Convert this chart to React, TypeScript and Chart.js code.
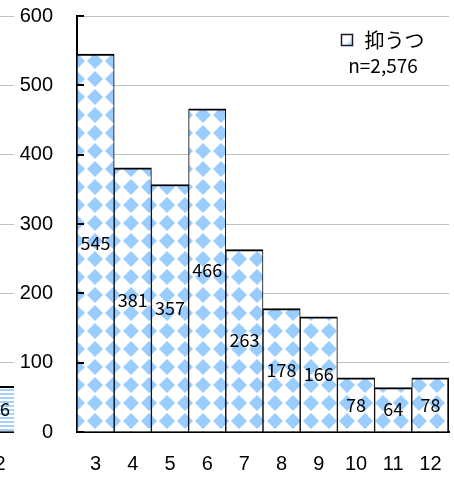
import React, { useEffect, useRef } from "react";
import { Chart, registerables } from "chart.js";

Chart.register(...registerables);

// ---- data ----
const categories = ["3", "4", "5", "6", "7", "8", "9", "10", "11", "12"];
const values = [545, 381, 357, 466, 263, 178, 166, 78, 64, 78];
const seriesLabel = "抑うつ";
const sampleNote = "n=2,576";
const yMin = 0;
const yMax = 600;
const yStep = 100;

// neighbouring chart, cropped at the left edge of the picture
const prevCategories = ["2"];
const prevValues = [66];

const TICK_FONT = { family: "'Liberation Sans', Arial, sans-serif", size: 20 };
const LABEL_FONT = "18px 'Noto Sans CJK JP', sans-serif";

function diamondPattern(): CanvasPattern | string {
  const P = 18;
  const c = document.createElement("canvas");
  c.width = P;
  c.height = P;
  const g = c.getContext("2d");
  if (!g) return "#99CCFF";
  g.fillStyle = "#ffffff";
  g.fillRect(0, 0, P, P);
  g.fillStyle = "#99CCFF";
  const r = 8;
  const cx0 = 5, cy0 = 7;
  for (const dx of [-P, 0, P]) {
    for (const dy of [-P, 0, P]) {
      const cx = cx0 + dx, cy = cy0 + dy;
      g.beginPath();
      g.moveTo(cx, cy - r);
      g.lineTo(cx + r, cy);
      g.lineTo(cx, cy + r);
      g.lineTo(cx - r, cy);
      g.closePath();
      g.fill();
    }
  }
  const p = g.createPattern(c, "repeat");
  return p || "#99CCFF";
}

function stripePattern(): CanvasPattern | string {
  const c = document.createElement("canvas");
  c.width = 4;
  c.height = 4;
  const g = c.getContext("2d");
  if (!g) return "#A6D0F5";
  g.fillStyle = "#ffffff";
  g.fillRect(0, 0, 4, 4);
  g.fillStyle = "#A6D0F5";
  g.fillRect(0, 1, 4, 2);
  const p = g.createPattern(c, "repeat");
  return p || "#A6D0F5";
}

const valueLabels = {
  id: "valueLabels",
  afterDatasetsDraw(chart: any) {
    const ctx = chart.ctx;
    ctx.save();
    ctx.font = LABEL_FONT;
    ctx.fillStyle = "#000";
    ctx.textAlign = "center";
    ctx.textBaseline = "middle";
    chart.data.datasets.forEach((ds: any, di: number) => {
      const meta = chart.getDatasetMeta(di);
      meta.data.forEach((bar: any, i: number) => {
        const v = ds.data[i];
        ctx.fillText(String(v), bar.x, (bar.y + bar.base) / 2);
      });
    });
    ctx.restore();
  },
};

const innerTicks = {
  id: "innerTicks",
  afterDatasetsDraw(chart: any) {
    const y = chart.scales.y;
    const ctx = chart.ctx;
    const left = chart.chartArea.left;
    ctx.save();
    ctx.strokeStyle = "#000";
    ctx.lineWidth = 2;
    y.ticks.forEach((t: any) => {
      const py = Math.round(y.getPixelForValue(t.value));
      ctx.beginPath();
      ctx.moveTo(left, py);
      ctx.lineTo(left + 7, py);
      ctx.stroke();
    });
    ctx.restore();
  },
};

const legendBox = {
  id: "legendBox",
  afterDraw(chart: any) {
    const ctx = chart.ctx;
    const area = chart.chartArea;
    const cx = area.right - 66;
    const label = chart.data.datasets[0].label as string;
    ctx.save();
    ctx.font = "20px 'Noto Sans CJK JP', sans-serif";
    const tw = ctx.measureText(label).width;
    const box = 11;
    const gap = 12;
    const total = box + gap + tw;
    const x0 = cx - total / 2;
    const yMid = area.top + 24;
    const grad = ctx.createLinearGradient(x0, yMid - box / 2, x0 + box, yMid + box / 2);
    grad.addColorStop(0, "#ffffff");
    grad.addColorStop(0.55, "#ffffff");
    grad.addColorStop(1, "#99CCFF");
    ctx.fillStyle = grad;
    ctx.fillRect(x0, yMid - box / 2, box, box);
    ctx.strokeStyle = "#1a1a2e";
    ctx.lineWidth = 1.5;
    ctx.strokeRect(x0, yMid - box / 2, box, box);
    ctx.fillStyle = "#000";
    ctx.textAlign = "left";
    ctx.textBaseline = "middle";
    ctx.fillText(label, x0 + box + gap, yMid);
    ctx.textAlign = "center";
    ctx.font = "19px 'Noto Sans CJK JP', sans-serif";
    ctx.fillText(sampleNote, cx, yMid + 26);
    ctx.restore();
  },
};

function xScale() {
  return {
    offset: true,
    grid: { display: false, drawTicks: false },
    border: { display: true, color: "#000", width: 2 },
    ticks: {
      color: "#000",
      font: TICK_FONT,
      padding: 20,
      maxRotation: 0,
      autoSkip: false,
    },
    afterFit: (s: any) => {
      s.height = 47;
      s.paddingLeft = 0;
      s.paddingRight = 0;
      s.paddingTop = 0;
      s.paddingBottom = 0;
    },
  };
}

export default function App() {
  const mainRef = useRef<HTMLCanvasElement | null>(null);
  const prevRef = useRef<HTMLCanvasElement | null>(null);

  useEffect(() => {
    if (!mainRef.current || !prevRef.current) return;
    const last = values.length - 1;
    const main = new Chart(mainRef.current, {
      type: "bar",
      data: {
        labels: categories,
        datasets: [
          {
            label: seriesLabel,
            data: values,
            backgroundColor: diamondPattern() as any,
            borderColor: "#000",
            borderWidth: ((ctx: any) => ({
              top: 2,
              left: 1,
              right: ctx.dataIndex === last ? 2 : 1,
              bottom: 0,
            })) as any,
            borderSkipped: "start",
            categoryPercentage: 1,
            barPercentage: 1,
          },
        ],
      },
      options: {
        animation: false,
        responsive: false,
        maintainAspectRatio: false,
        layout: { padding: { left: 0, right: 5, top: 16, bottom: 0 } },
        plugins: { legend: { display: false }, tooltip: { enabled: false } },
        scales: {
          x: xScale(),
          y: {
            min: yMin,
            max: yMax,
            ticks: {
              stepSize: yStep,
              color: "#000",
              font: TICK_FONT,
              padding: 24,
            },
            grid: { color: "#C0C0C0", lineWidth: 1, drawTicks: false },
            border: { display: true, color: "#000", width: 2 },
            afterFit: (s: any) => {
              s.width = 77;
              s.paddingTop = 0;
              s.paddingBottom = 0;
              s.paddingLeft = 0;
              s.paddingRight = 0;
            },
          },
        } as any,
      },
      plugins: [valueLabels, innerTicks, legendBox],
    });

    const prev = new Chart(prevRef.current, {
      type: "bar",
      data: {
        labels: prevCategories,
        datasets: [
          {
            label: "prev",
            data: prevValues,
            backgroundColor: stripePattern() as any,
            borderColor: "#000",
            borderWidth: { top: 2, left: 1, right: 1, bottom: 0 },
            borderSkipped: "start",
            categoryPercentage: 1,
            barPercentage: 1,
          },
        ],
      },
      options: {
        animation: false,
        responsive: false,
        maintainAspectRatio: false,
        layout: { padding: { left: 17.5, right: 5.5, top: 16, bottom: 0 } },
        plugins: { legend: { display: false }, tooltip: { enabled: false } },
        scales: {
          x: xScale(),
          y: {
            min: yMin,
            max: yMax,
            ticks: { stepSize: yStep, display: false },
            grid: { color: "#C0C0C0", lineWidth: 1, drawTicks: false },
            border: { display: false },
            afterFit: (s: any) => {
              s.width = 0;
              s.paddingTop = 0;
              s.paddingBottom = 0;
              s.paddingLeft = 0;
              s.paddingRight = 0;
            },
          },
        } as any,
      },
      plugins: [valueLabels],
    });

    return () => {
      main.destroy();
      prev.destroy();
    };
  }, []);

  return (
    <div style={{ position: "fixed", left: 0, top: 0, width: 454, height: 479, background: "#fff", overflow: "hidden" }}>
      <canvas ref={mainRef} width={454} height={479} style={{ position: "absolute", left: 0, top: 0, display: "block" }} />
      <div style={{ position: "absolute", left: 0, top: 0, width: 14, height: 479, overflow: "hidden" }}>
        <canvas ref={prevRef} width={60} height={479} style={{ position: "absolute", left: -36, top: 0, display: "block" }} />
      </div>
    </div>
  );
}
